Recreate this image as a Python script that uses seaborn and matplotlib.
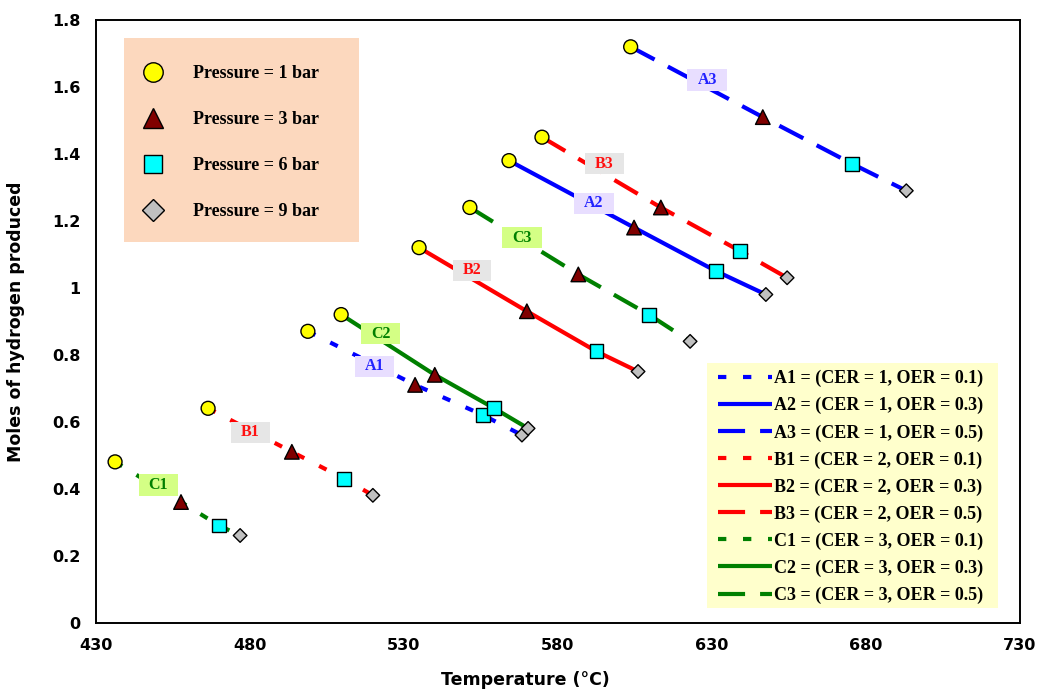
import numpy as np
import pandas as pd
import matplotlib
matplotlib.use("Agg")
import matplotlib.pyplot as plt
from matplotlib.lines import Line2D
from matplotlib.patches import Rectangle
from matplotlib.path import Path
from matplotlib.ticker import FuncFormatter
import seaborn as sns

# ---- data -------------------------------------------------------------
series = ["A1", "A2", "A3", "B1", "B2", "B3", "C1", "C2", "C3"]
series_desc = [
    "A1 = (CER = 1, OER = 0.1)",
    "A2 = (CER = 1, OER = 0.3)",
    "A3 = (CER = 1, OER = 0.5)",
    "B1 = (CER = 2, OER = 0.1)",
    "B2 = (CER = 2, OER = 0.3)",
    "B3 = (CER = 2, OER = 0.5)",
    "C1 = (CER = 3, OER = 0.1)",
    "C2 = (CER = 3, OER = 0.3)",
    "C3 = (CER = 3, OER = 0.5)",
]
pressures = [1, 3, 6, 9]
pressure_labels = ["Pressure = 1 bar", "Pressure = 3 bar",
                   "Pressure = 6 bar", "Pressure = 9 bar"]

x_ticks = [430, 480, 530, 580, 630, 680, 730]
y_ticks = [0, 0.2, 0.4, 0.6, 0.8, 1.0, 1.2, 1.4, 1.6, 1.8]

# temperature (°C) at 1, 3, 6 and 9 bar for each case
temp_A1 = [498.8, 533.6, 555.6, 568.3]
temp_A2 = [564.1, 604.7, 631.3, 647.5]
temp_A3 = [603.6, 646.5, 675.6, 693.1]
temp_B1 = [466.4, 493.6, 510.5, 519.9]
temp_B2 = [534.9, 569.9, 592.5, 606.0]
temp_B3 = [574.8, 613.4, 639.1, 654.4]
temp_C1 = [436.2, 457.6, 469.9, 476.8]
temp_C2 = [509.6, 540.0, 559.3, 570.3]
temp_C3 = [551.4, 586.6, 609.5, 622.9]

# moles of hydrogen produced at 1, 3, 6 and 9 bar
h2_A1 = [0.87, 0.71, 0.62, 0.56]
h2_A2 = [1.38, 1.18, 1.05, 0.98]
h2_A3 = [1.72, 1.51, 1.37, 1.29]
h2_B1 = [0.64, 0.51, 0.43, 0.38]
h2_B2 = [1.12, 0.93, 0.81, 0.75]
h2_B3 = [1.45, 1.24, 1.11, 1.03]
h2_C1 = [0.48, 0.36, 0.29, 0.26]
h2_C2 = [0.92, 0.74, 0.64, 0.58]
h2_C3 = [1.24, 1.04, 0.92, 0.84]

temps = [temp_A1, temp_A2, temp_A3, temp_B1, temp_B2, temp_B3,
         temp_C1, temp_C2, temp_C3]
h2 = [h2_A1, h2_A2, h2_A3, h2_B1, h2_B2, h2_B3, h2_C1, h2_C2, h2_C3]

# in-plot tag positions (temperature, moles) for each case
tag_x = [520.4, 591.7, 628.4, 480.2, 552.1, 595.1, 450.3, 522.4, 568.3]
tag_y = [0.765, 1.253, 1.621, 0.569, 1.053, 1.371, 0.411, 0.863, 1.150]

rows = []
for s, tt, hh in zip(series, temps, h2):
    for p, t, h in zip(pressures, tt, hh):
        rows.append({"series": s, "pressure": p, "temperature": t, "h2": h})
df = pd.DataFrame(rows)

# ---- styling ----------------------------------------------------------
sns.set_style("white")
plt.rcParams["font.family"] = ["DejaVu Sans"]
plt.rcParams.update({"text.color": "black", "axes.labelcolor": "black",
                     "xtick.color": "black", "ytick.color": "black"})

group_color = {"A": "#0000FF", "B": "#FF0000", "C": "#008000"}
tag_text_color = {"A": "#2222FF", "B": "#FF1010", "C": "#008000"}
tag_face = {"A": "#E8DEFF", "B": "#E6E6E6", "C": "#D4FF85"}
dash_for = {"1": (2.0, 4.0), "2": "", "3": (6.5, 3.6)}

palette = {s: group_color[s[0]] for s in series}
dashes = {s: dash_for[s[1]] for s in series}

p_color = {1: "#FFFF00", 3: "#800000", 6: "#00FFFF", 9: "#C0C0C0"}
p_marker = {1: "o", 3: "^", 6: "s", 9: "D"}
p_size = {1: 100, 3: 110, 6: 100, 9: 48}

fig = plt.figure(figsize=(10.41, 6.91), dpi=100)
ax = fig.add_axes([0.0922, 0.0991, 0.8876, 0.8719])

LW = 3.0
sns.lineplot(data=df, x="temperature", y="h2", hue="series", style="series",
             palette=palette, dashes=dashes, linewidth=LW, sort=False,
             estimator=None, legend=False, ax=ax, zorder=2)
for ln in ax.get_lines():
    ln.set_solid_capstyle("butt")
    ln.set_dash_capstyle("butt")

sns.scatterplot(data=df, x="temperature", y="h2", hue="pressure",
                palette=p_color, style="pressure", markers=p_marker,
                size="pressure", sizes=p_size, edgecolor="black",
                linewidth=1.0, alpha=1, legend=False, ax=ax, zorder=3)


# tag boxes with wider horizontal padding than vertical
def tag_box(x0, y0, width, height, mutation_size):
    px = 0.62 * mutation_size
    py = 0.16 * mutation_size
    x0, y0 = x0 - px, y0 - py
    x1, y1 = x0 + width + 2 * px, y0 + height + 2 * py
    return Path([(x0, y0), (x1, y0), (x1, y1), (x0, y1), (x0, y0)],
                closed=True)


for s, x, y in zip(series, tag_x, tag_y):
    g = s[0]
    ax.text(x, y, s, ha="center", va="center", fontsize=11.5,
            fontweight="bold", family="Liberation Serif",
            color=tag_text_color[g], zorder=4,
            bbox=dict(boxstyle=tag_box, facecolor=tag_face[g],
                      edgecolor="none"))

# ---- axes -------------------------------------------------------------
ax.set_xlim(430, 730)
ax.set_ylim(0, 1.8)
ax.set_xticks(x_ticks)
ax.set_yticks(y_ticks)
ax.yaxis.set_major_formatter(FuncFormatter(lambda v, _: f"{v:g}"))
for sp in ax.spines.values():
    sp.set_visible(True)
    sp.set_color("black")
    sp.set_linewidth(1.4)
ax.tick_params(axis="both", direction="out", length=4.5, width=1.2,
               colors="black", labelsize=11.5)
ax.tick_params(axis="x", pad=7)
ax.tick_params(axis="y", pad=6.5)
for lab in ax.get_xticklabels() + ax.get_yticklabels():
    lab.set_fontweight("bold")

ax.set_xlabel("Temperature (°C)", fontsize=12.5, fontweight="bold")
ax.set_ylabel("Moles of hydrogen produced", fontsize=12.5, fontweight="bold")
ax.xaxis.set_label_coords(0.465, -0.080)
ax.yaxis.set_label_coords(-0.077, 0.5)

# ---- legends ----------------------------------------------------------
ax.add_patch(Rectangle((0.0303, 0.6315), 0.2543, 0.3385,
                       transform=ax.transAxes, facecolor="#FCD8BE",
                       edgecolor="none", zorder=4.5))
ax.add_patch(Rectangle((0.6613, 0.0241), 0.3149, 0.4066,
                       transform=ax.transAxes, facecolor="#FFFFCC",
                       edgecolor="none", zorder=4.5))

leg_font = {"family": "Liberation Serif", "weight": "bold", "size": 13}

p_handles = [Line2D([], [], linestyle="", marker=p_marker[p],
                    markerfacecolor=p_color[p], markeredgecolor="black",
                    markeredgewidth=1.0,
                    markersize={1: 14, 3: 14, 6: 13, 9: 11}[p])
             for p in pressures]
leg1 = ax.legend(p_handles, pressure_labels, loc="upper left",
                 bbox_to_anchor=(0.048, 0.925), frameon=False, prop=leg_font,
                 borderpad=0, borderaxespad=0, handlelength=1.4,
                 handletextpad=1.5, labelspacing=1.6)
leg1.set_zorder(5)
ax.add_artist(leg1)

s_handles = [Line2D([], [], color=palette[s], linewidth=LW,
                    linestyle="-" if dashes[s] == "" else (0, dashes[s]),
                    solid_capstyle="butt", dash_capstyle="butt")
             for s in series]
leg2 = ax.legend(s_handles, series_desc, loc="upper left",
                 bbox_to_anchor=(0.673, 0.419), frameon=False, prop=leg_font,
                 borderpad=0, borderaxespad=0, handlelength=3.0,
                 handletextpad=0.12, labelspacing=0.54)
leg2.set_zorder(5)

fig.savefig("out.png", dpi=100)
